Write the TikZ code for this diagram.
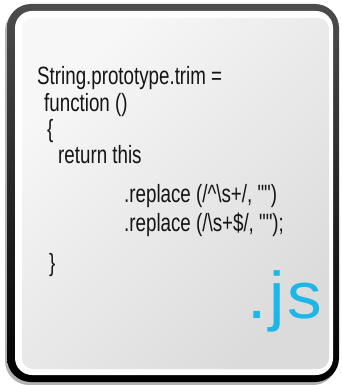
\documentclass[tikz,border=0pt]{standalone}
\usepackage{fontspec}
\newfontfamily\codefont[FakeStretch=0.75]{Liberation Sans}
\newfontfamily\extfont[FakeStretch=1.05]{Liberation Sans}
\definecolor{jsblue}{HTML}{1CB7E6}
\definecolor{codeink}{HTML}{141414}
\begin{document}
\begin{tikzpicture}[x=1pt,y=-1pt,
  codeline/.style={anchor=base west,inner sep=0pt,font=\codefont\fontsize{25}{29}\selectfont,text=codeink},
  extlabel/.style={anchor=base east,inner sep=0pt,font=\extfont\fontsize{66}{70}\selectfont,text=jsblue}]
  \useasboundingbox (0,0) rectangle (342,385);
  % soft drop shadow
  \fill[black!30,rounded corners=24pt] (5,7) rectangle (337,385);
  % dark outer frame
  \shade[rounded corners=24pt,top color=black!70,bottom color=black] (7,4) rectangle (339,382);
  % white ring
  \fill[white,rounded corners=17pt] (15,11) rectangle (333,375);
  % light grey panel
  \shade[rounded corners=11pt,top color=white!97!black,bottom color=black!14,shading angle=45] (22,18) rectangle (329,369);
  % code
  \node[codeline] (l1) at (37,85) {String.prototype.trim =};
  \node[codeline] (l2) at (44,111) {function ()};
  \node[codeline] (l3) at (47,137) {\{};
  \node[codeline] (l4) at (58,163) {return this};
  \node[codeline] (l5) at (124,202) {.replace (/\^{}\textbackslash s+/, "")};
  \node[codeline] (l6) at (124,231) {.replace (/\textbackslash s+\$/, "");};
  \node[codeline] (l7) at (49,271) {\}};
  \node[extlabel] (ext) at (322,318) {.\kern3pt j\kern2.5pt s};
\end{tikzpicture}
\end{document}
